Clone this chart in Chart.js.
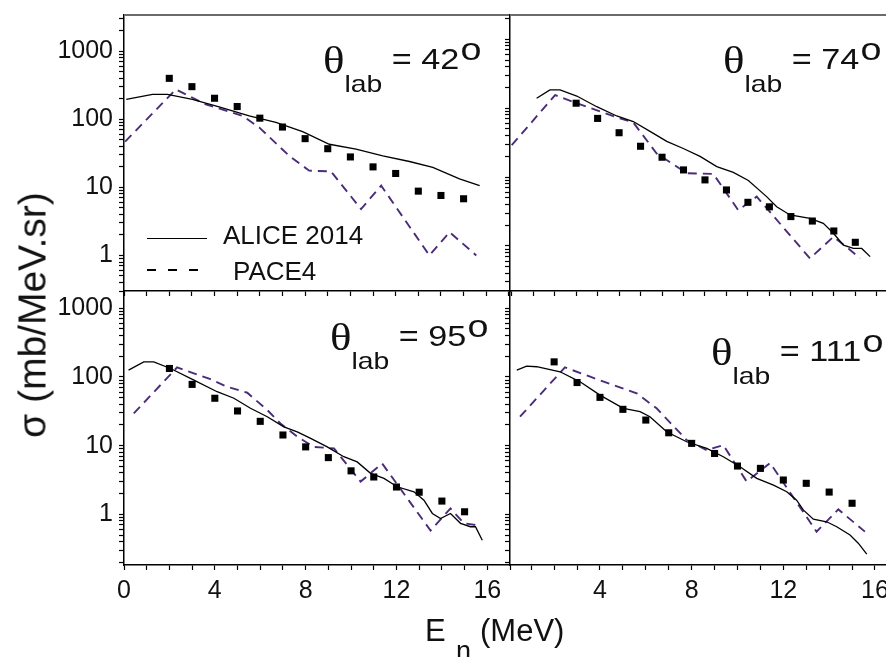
<!DOCTYPE html>
<html>
<head>
<meta charset="utf-8">
<script src="https://cdn.jsdelivr.net/npm/chart.js@4.4.1/dist/chart.umd.min.js"></script>
<style>
html, body { margin: 0; padding: 0; background: #fff; }
#wrap { position: relative; width: 886px; height: 657px; overflow: hidden;
        font-family: Arial, "Liberation Sans", sans-serif; color: #111; }
#wrap canvas { position: absolute; left: 0; top: 0; }
.txt { position: absolute; white-space: nowrap; line-height: 1; }
.ang { position: absolute; white-space: nowrap; line-height: 1; transform: scaleX(1.18); transform-origin: 0 0; }
.ang .th { font-family: "Liberation Serif", "DejaVu Serif", serif; font-size: 38px; position: relative; top: 4px; }
.ang .sub { font-size: 24px; position: relative; top: 23px; }
.ang .eq { font-size: 29px; margin-left: 8px; }
.ang .deg { font-size: 32px; position: relative; top: -9px; margin-left: 1px; }
</style>
</head>
<body>
<div id="wrap">
  <canvas id="c1" width="886" height="657"></canvas>
  <canvas id="c2" width="886" height="657"></canvas>
  <canvas id="c3" width="886" height="657"></canvas>
  <canvas id="c4" width="886" height="657"></canvas>

  <!-- legend (top-left panel) -->
  <div class="txt" style="left:147px;top:238px;width:60px;height:0;border-top:1.5px solid #000"></div>
  <div class="txt" style="left:223px;top:222px;font-size:26px">ALICE 2014</div>
  <div class="txt" style="left:147px;top:269px;width:56px;height:1.5px;background:repeating-linear-gradient(90deg,#000 0 9px,transparent 9px 21px)"></div>
  <div class="txt" style="left:233px;top:258px;font-size:26px">PACE4</div>

  <!-- axis titles -->
  <div class="txt" style="left:32px;top:315px;font-size:39px;transform:translate(-50%,-50%) rotate(-90deg)">σ (mb/MeV.sr)</div>
  <div class="txt" style="left:425px;top:615px;font-size:31px">E</div>
  <div class="txt" style="left:456px;top:638px;font-size:27px">n</div>
  <div class="txt" style="left:480px;top:615px;font-size:31px">(MeV)</div>
</div>

<script>
// angle of each panel and tick labels
var angles = ['42', '74', '95', '111'];
var yTickLabels = [1, 10, 100, 1000];
var xTickLabels = [0, 4, 8, 12, 16];

// theta = 42 deg
var e42Exp = [2, 3, 4, 5, 6, 7, 8, 9, 10, 11, 12, 13, 14, 15];
var s42Exp = [400, 302, 204, 154, 104, 77, 52, 37, 28, 20, 16, 8.8, 7.6, 6.8];
var e42Alice = [0.1, 1.26, 1.92, 3.02, 4.2, 5.53, 6.71, 7.89, 9.07, 10.25, 11.43, 12.61, 13.64, 14.82, 15.71];
var s42Alice = [197, 233, 233, 197, 152, 112, 90, 66, 43, 36.5, 29, 24, 19.7, 13.3, 10.6];
var e42Pace = [0.05, 2.29, 3.61, 5.24, 5.97, 7.3, 8.18, 9.14, 10.47, 11.36, 13.49, 14.38, 15.56];
var s42Pace = [47, 276, 166, 112, 76, 29, 17.6, 17.2, 4.8, 10.6, 1.0, 2.2, 1.0];

// theta = 74 deg
var e74Exp = [3, 4, 5, 6, 7, 8, 9, 10, 11, 12, 13, 14, 15, 16];
var s74Exp = [118, 71, 44, 28, 19.4, 12.7, 9.1, 6.5, 4.3, 3.7, 2.67, 2.3, 1.65, 1.13];
var e74Alice = [1.16, 1.78, 2.25, 3.03, 3.96, 4.89, 5.66, 6.44, 7.22, 7.99, 8.77, 9.55, 10.32, 11.02, 11.87, 12.34, 12.96, 13.89, 14.51, 14.98, 15.45, 15.91, 16.3, 16.69];
var s74Alice = [139, 184, 184, 150, 105, 77, 64, 46, 33, 26, 20, 14.2, 11.7, 8.9, 5.2, 3.7, 2.82, 2.52, 2.13, 1.53, 1.03, 0.92, 0.92, 0.7];
var e74Pace = [0, 2.02, 3.03, 5.04, 5.66, 6.75, 8.15, 9.39, 10.55, 11.41, 13.89, 14.98, 15.76, 16.22];
var s74Pace = [29, 155, 118, 71, 62, 22, 11.4, 11.1, 3.3, 5.2, 0.66, 1.36, 0.875, 0.66];

// theta = 95 deg
var e95Exp = [2, 3, 4, 5, 6, 7, 8, 9, 10, 11, 12, 13, 14, 15];
var s95Exp = [133, 78, 49, 32, 22.6, 14.3, 9.6, 6.7, 4.3, 3.5, 2.5, 2.1, 1.56, 1.09];
var e95Alice = [0.2, 0.87, 1.31, 2.05, 3.08, 4.1, 4.84, 5.57, 6.31, 7.04, 7.63, 8.22, 8.95, 9.68, 10.27, 10.86, 11.45, 12.03, 12.77, 13.21, 13.58, 13.94, 14.38, 14.82, 15.26, 15.48, 15.78];
var s95Alice = [126, 166, 166, 133, 90, 61, 49, 35, 26.4, 18.8, 15.9, 12.8, 9.6, 6.9, 5.8, 3.95, 3.34, 2.52, 2.13, 1.61, 1.03, 0.87, 1.03, 0.74, 0.66, 0.66, 0.42];
var e95Pace = [0.43, 2.34, 3.81, 4.54, 5.43, 6.31, 6.89, 7.63, 8.36, 9.25, 10.42, 11.37, 13.5, 14.38, 14.97, 15.48];
var s95Pace = [29.5, 138, 93, 72, 59, 33, 21, 13.5, 9.6, 9.1, 3.0, 5.5, 0.58, 1.22, 0.74, 0.7];

// theta = 111 deg
var e111Exp = [2, 3, 4, 5, 6, 7, 8, 9, 10, 11, 12, 13, 14, 15];
var s111Exp = [166, 83, 50.5, 33.8, 23.6, 15.4, 10.8, 7.7, 5.05, 4.67, 3.16, 2.83, 2.11, 1.45];
var e111Alice = [0.37, 0.8, 1.24, 2.26, 3.13, 4.0, 5.02, 5.75, 6.18, 6.91, 7.78, 8.66, 9.38, 10.11, 10.84, 11.57, 12.15, 12.58, 12.87, 13.31, 13.89, 14.33, 14.91, 15.27, 15.64];
var s111Alice = [126, 144, 141, 119, 85, 54.5, 34.9, 31.2, 26.4, 15.9, 11.4, 9.1, 6.9, 4.93, 3.34, 2.67, 2.13, 1.61, 1.16, 0.85, 0.78, 0.66, 0.5, 0.38, 0.264];
var e111Pace = [0.51, 2.47, 3.57, 4.44, 5.6, 6.47, 7.78, 8.66, 9.38, 10.4, 11.42, 13.45, 14.4, 15.56];
var s111Pace = [26.4, 138, 101, 79, 58, 35, 12.1, 8.6, 10.2, 3.0, 5.6, 0.56, 1.18, 0.56];

function toPts(xs, ys) {
    return xs.map(function(x, i) { return {x: x, y: ys[i]}; });
}

// minor + major ticks of a log axis, one per 1..9 x 10^n
function logTicks(scale) {
    var t = [];
    for (var e = -1; e <= 3; e++) {
        for (var m = 1; m <= 9; m++) {
            var v = +(m * Math.pow(10, e)).toPrecision(3);
            if (v >= scale.min && v <= scale.max) t.push({value: v});
        }
    }
    scale.ticks = t;
}

function intTicks(scale) {
    var t = [];
    for (var v = Math.ceil(scale.min); v <= Math.floor(scale.max); v++) t.push({value: v});
    scale.ticks = t;
}

// top frame line of each panel
var frame = {
    id: 'frame',
    afterDraw: function(chart, args, opts) {
        if (!opts.show) return;
        var ca = chart.chartArea, ctx = chart.ctx;
        ctx.save();
        ctx.strokeStyle = '#6b6b6b';
        ctx.lineWidth = 2;
        ctx.beginPath();
        ctx.moveTo(ca.left, ca.top);
        ctx.lineTo(ca.right, ca.top);
        ctx.stroke();
        ctx.restore();
    }
};

var tickFont = {family: 'Arial, "Liberation Sans", sans-serif', size: 25};

function makePanel(p) {
    var W = 886, H = 657, xh = 60;
    var yw = p.yLabels ? p.area.left : 40;
    new Chart(document.getElementById(p.id), {
        type: 'scatter',
        data: {
            datasets: [
                {
                    label: 'experiment',
                    data: toPts(p.exp[0], p.exp[1]),
                    showLine: false,
                    pointStyle: 'rect',
                    pointRadius: 5,
                    backgroundColor: '#000',
                    borderColor: '#000',
                    borderWidth: 0,
                    order: 1
                },
                {
                    label: 'ALICE 2014',
                    data: toPts(p.alice[0], p.alice[1]),
                    showLine: true,
                    borderColor: '#000',
                    borderWidth: 1.3,
                    pointRadius: 0,
                    order: 2
                },
                {
                    label: 'PACE4',
                    data: toPts(p.pace[0], p.pace[1]),
                    showLine: true,
                    borderColor: '#4a2c78',
                    borderWidth: 1.9,
                    borderDash: [9, 6],
                    pointRadius: 0,
                    order: 3
                }
            ]
        },
        options: {
            responsive: false,
            animation: false,
            events: [],
            layout: {
                autoPadding: false,
                padding: {
                    left: p.area.left - yw,
                    top: p.area.top,
                    right: W - p.area.right,
                    bottom: H - p.area.bottom - xh
                }
            },
            plugins: {
                legend: {display: false},
                tooltip: {enabled: false},
                frame: {show: p.topFrame}
            },
            scales: {
                x: {
                    type: 'linear',
                    position: 'bottom',
                    min: p.x[0],
                    max: p.x[1],
                    afterBuildTicks: intTicks,
                    afterFit: function(s) { s.height = xh; s.paddingLeft = 0; s.paddingRight = 0; },
                    ticks: {
                        display: p.xLabels,
                        autoSkip: false,
                        maxRotation: 0,
                        padding: 6,
                        font: tickFont,
                        color: '#111',
                        callback: function(v) { return xTickLabels.indexOf(v) >= 0 ? String(v) : ''; }
                    },
                    grid: {drawOnChartArea: false, tickLength: 5, tickColor: '#000', tickWidth: 1.2},
                    border: {color: '#000', width: 1.5}
                },
                y: {
                    type: 'logarithmic',
                    position: 'left',
                    min: p.y[0],
                    max: p.y[1],
                    afterBuildTicks: logTicks,
                    afterFit: function(s) { s.width = yw; s.paddingTop = 0; s.paddingBottom = 0; },
                    ticks: {
                        display: p.yLabels,
                        autoSkip: false,
                        padding: 6,
                        font: tickFont,
                        color: '#111',
                        callback: function(v) { return yTickLabels.indexOf(v) >= 0 ? String(v) : ''; }
                    },
                    grid: {drawOnChartArea: false, tickLength: 5, tickColor: '#000', tickWidth: 1.2},
                    border: {color: '#000', width: 1.5}
                }
            }
        },
        plugins: [frame]
    });
}

var panels = [
    {id: 'c1', exp: [e42Exp, s42Exp], alice: [e42Alice, s42Alice], pace: [e42Pace, s42Pace],
     area: {left: 124, top: 15, right: 510, bottom: 291}, x: [0, 17.05], y: [0.315, 3412],
     yLabels: true, xLabels: false, topFrame: true},
    {id: 'c2', exp: [e74Exp, s74Exp], alice: [e74Alice, s74Alice], pace: [e74Pace, s74Pace],
     area: {left: 510, top: 15, right: 886, bottom: 291}, x: [-0.08, 17.43], y: [0.222, 2250],
     yLabels: false, xLabels: false, topFrame: true},
    {id: 'c3', exp: [e95Exp, s95Exp], alice: [e95Alice, s95Alice], pace: [e95Pace, s95Pace],
     area: {left: 124, top: 291, right: 510, bottom: 565}, x: [0, 17.0], y: [0.183, 1786],
     yLabels: true, xLabels: true, topFrame: false},
    {id: 'c4', exp: [e111Exp, s111Exp], alice: [e111Alice, s111Alice], pace: [e111Pace, s111Pace],
     area: {left: 510, top: 291, right: 886, bottom: 565}, x: [0.074, 16.48], y: [0.183, 1786],
     yLabels: false, xLabels: true, topFrame: false}
];
panels.forEach(makePanel);

// theta_lab labels
var angPos = [[323, 37], [723, 37], [330, 314], [711, 329]];
angles.forEach(function(a, i) {
    var d = document.createElement('div');
    d.className = 'ang';
    d.style.left = angPos[i][0] + 'px';
    d.style.top = angPos[i][1] + 'px';
    d.innerHTML = '<span class="th">θ</span><span class="sub">lab</span>' +
        '<span class="eq">= ' + a + '</span><span class="deg">o</span>';
    document.getElementById('wrap').appendChild(d);
});
</script>
</body>
</html>
